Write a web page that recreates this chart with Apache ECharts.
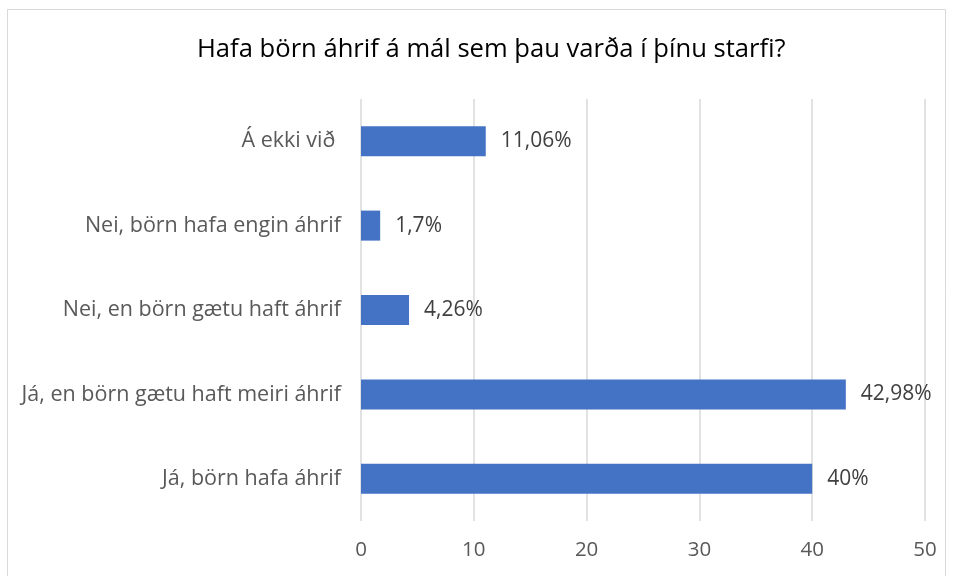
<!DOCTYPE html>
<html>
<head>
<meta charset="utf-8">
<script src="https://cdn.jsdelivr.net/npm/echarts@6/dist/echarts.min.js"></script>
<style>
  html, body { margin: 0; padding: 0; background: #fff; }
  #chart { width: 954px; height: 576px; }
</style>
</head>
<body>
<div id="chart"></div>
<script>
// gögn, neðst til efst eins og á ásnum
var categories = [
    'Já, börn hafa áhrif',
    'Já, en börn gætu haft meiri áhrif',
    'Nei, en börn gætu haft áhrif',
    'Nei, börn hafa engin áhrif',
    'Á ekki við '
];
var values = [40, 42.98, 4.26, 1.7, 11.06];
var xTicks = [0, 10, 20, 30, 40, 50];

var font = '"Open Sans", sans-serif';
var chart = echarts.init(document.getElementById('chart'));

chart.setOption({
    backgroundColor: '#fff',
    animation: false,
    title: {
        text: 'Hafa börn áhrif á mál sem þau varða í þínu starfi?',
        left: 192,
        top: 32,
        textStyle: {
            fontFamily: font,
            fontSize: 25.6,
            fontWeight: 'normal',
            color: '#000'
        }
    },
    graphic: [{
        type: 'rect',
        shape: {x: 7.5, y: 9.5, width: 938, height: 600},
        style: {fill: 'none', stroke: '#d9d9d9', lineWidth: 1},
        silent: true
    }],
    grid: {
        left: 361,
        right: 29,
        top: 99,
        bottom: 55
    },
    xAxis: {
        type: 'value',
        min: xTicks[0],
        max: xTicks[xTicks.length - 1],
        interval: 10,
        axisLine: {show: false},
        axisTick: {show: false},
        splitLine: {lineStyle: {color: '#d9d9d9', width: 1.5}},
        axisLabel: {
            margin: 19,
            fontFamily: font,
            fontSize: 20.5,
            color: '#595959'
        }
    },
    yAxis: {
        type: 'category',
        data: categories,
        axisLine: {show: false},
        axisTick: {show: false},
        axisLabel: {
            margin: 20,
            fontFamily: font,
            fontSize: 21.5,
            color: '#595959'
        }
    },
    series: [{
        type: 'bar',
        data: values,
        barWidth: 30,
        itemStyle: {color: '#4472C4'},
        label: {
            show: true,
            position: 'right',
            distance: 15,
            fontFamily: font,
            fontSize: 21,
            color: '#404040',
            formatter: function (p) {
                return String(p.value).replace('.', ',') + '%';
            }
        }
    }]
});
</script>
</body>
</html>
